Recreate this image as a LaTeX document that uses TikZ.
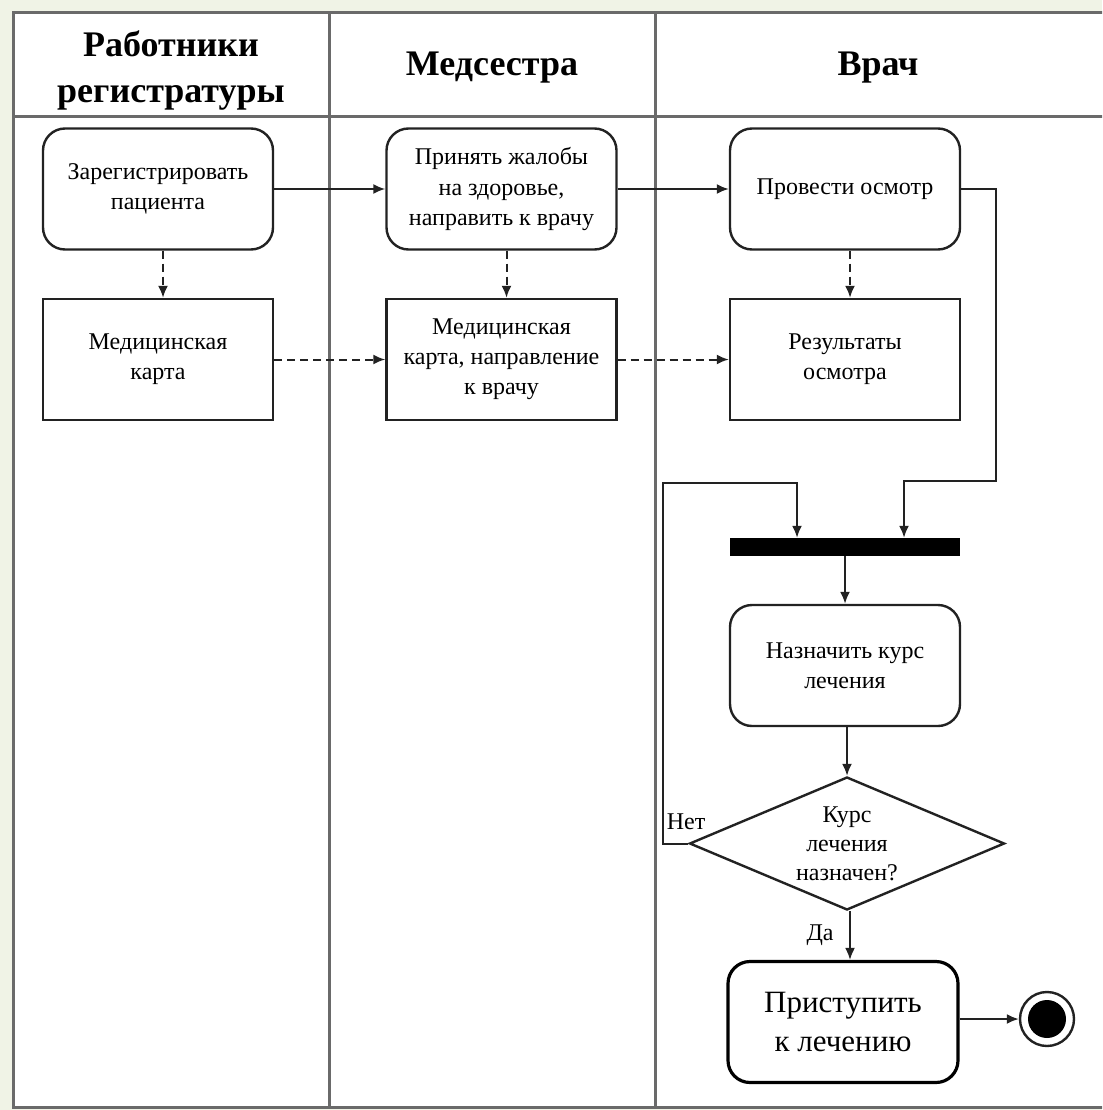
\documentclass[tikz,border=0pt]{standalone}
\usepackage{fontspec}
\setmainfont{Liberation Serif}
\usetikzlibrary{shapes.geometric,arrows.meta}
\definecolor{bgc}{HTML}{F0F3E6}
\definecolor{tab}{HTML}{6A6A6A}
\definecolor{ink}{HTML}{222222}
\tikzset{
  act/.style={draw=ink, line width=2.4pt, rounded corners=22pt, minimum width=230pt, minimum height=121pt, align=center, inner sep=2pt, font=\fontsize{24}{30}\selectfont},
  obj/.style={draw=ink, line width=2.4pt, minimum width=230pt, minimum height=121pt, align=center, inner sep=2pt, font=\fontsize{24}{30}\selectfont},
  hdr/.style={align=center, font=\bfseries\fontsize{36}{46}\selectfont},
  lbl/.style={font=\fontsize{24}{28}\selectfont, inner sep=0pt},
  arr/.style={draw=ink, line width=2pt, -{Latex[length=12pt,width=10pt]}},
  darr/.style={arr, dash pattern=on 8pt off 5pt},
  tline/.style={draw=tab, line width=3pt}
}
\begin{document}
\begin{tikzpicture}[x=1pt,y=-1pt]
\useasboundingbox (0,0) rectangle (1102,1110);
\clip (0,0) rectangle (1102,1110);
\fill[bgc] (0,0) rectangle (1102,1110);
\fill[white] (13,12) rectangle (1110,1107);
% table
\draw[tline] (1110,13) -- (13,13) -- (13,1107) -- (1110,1107);
\draw[tline] (13,117) -- (1110,117);
\draw[tline] (329,13) -- (329,1107);
\draw[tline] (655,13) -- (655,1107);
% headers
\node[hdr] (h1) at (171,71) {Работники\\регистратуры};
\node[hdr] (h2) at (492,68) {Медсестра};
\node[hdr] (h3) at (878,68) {Врач};
% nodes
\node[act] (reg) at (158,189) {Зарегистрировать\\пациента};
\node[obj] (card1) at (158,359.5) {Медицинская\\карта};
\node[act] (pri) at (501.5,189) {Принять жалобы\\на здоровье,\\направить к врачу};
\node[obj] (card2) at (501.5,359.5) {Медицинская\\карта, направление\\к врачу};
\node[act] (prov) at (845,189) {Провести осмотр};
\node[obj] (res) at (845,359.5) {Результаты\\осмотра};
\node[fill=black, minimum width=230pt, minimum height=18pt, inner sep=0pt] (bar) at (845,547) {};
\node[act] (nazn) at (845,665.5) {Назначить курс\\лечения};
\node[draw=ink, line width=2.4pt, diamond, minimum width=315pt, minimum height=133pt, shape aspect=2.37, inner sep=0pt, align=center, font=\fontsize{24}{29}\selectfont] (dia) at (847,843.5) {Курс\\лечения\\назначен?};
\node[act, draw=black, line width=3.2pt, font=\fontsize{31}{39}\selectfont] (pris) at (843,1022) {Приступить\\к лечению};
\node[circle, draw=ink, line width=2.4pt, minimum size=54pt, inner sep=0pt] (fin) at (1047,1019) {};
\fill[black] (fin.center) circle (19pt);
% connectors
\draw[arr] (reg.east) -- (pri.west);
\draw[arr] (pri.east) -- (prov.west);
\draw[darr] ([xshift=5pt]reg.south) -- ([xshift=5pt]card1.north);
\draw[darr] ([xshift=5pt]pri.south) -- ([xshift=5pt]card2.north);
\draw[darr] ([xshift=5pt]prov.south) -- ([xshift=5pt]res.north);
\draw[darr] (card1.east) -- (card2.west);
\draw[darr] (card2.east) -- (res.west);
\coordinate (r1) at (996,481);
\coordinate (l1) at (663,483);
\draw[arr] (prov.east) -| (r1) -| ([xshift=59pt]bar.north);
\draw[arr] (dia.west) -| (l1) -| ([xshift=-48pt]bar.north);
\draw[arr] (bar.south) -- (nazn.north);
\draw[arr] ([xshift=2pt]nazn.south) -- (dia.north);
\draw[arr] ([xshift=3pt]dia.south) -- ([xshift=3pt]dia.south |- pris.north);
\draw[arr] (pris.east |- fin.west) -- (fin.west);
\node[lbl] (no) at (686,822) {Нет};
\node[lbl] (yes) at (820,935) {Да};
\end{tikzpicture}
\end{document}
